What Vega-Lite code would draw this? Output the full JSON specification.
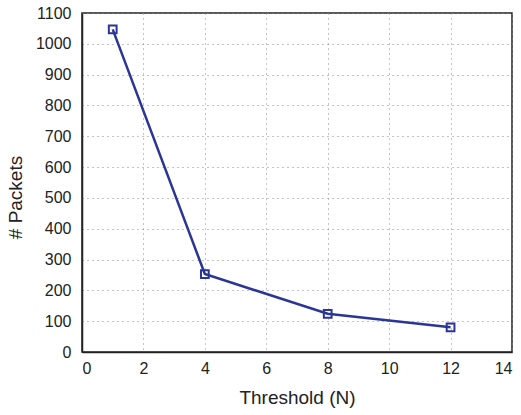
{
  "$schema": "https://vega.github.io/schema/vega-lite/v6.json",
  "width": 430,
  "height": 339,
  "autosize": "none",
  "padding": {"left": 82, "top": 13, "right": 9, "bottom": 63},
  "background": "white",
  "config": {
    "font": "Liberation Sans",
    "view": {"stroke": "#222222", "strokeWidth": 1.5},
    "axis": {
      "domain": true,
      "domainColor": "#222222",
      "domainWidth": 1.5,
      "ticks": false,
      "grid": true,
      "gridColor": "#888888",
      "gridDash": [1, 4],
      "gridWidth": 1,
      "labelFont": "Liberation Sans",
      "labelFontSize": 16,
      "labelColor": "#222222",
      "titleFont": "Liberation Sans",
      "titleFontSize": 19,
      "titleFontWeight": "normal",
      "titleColor": "#222222"
    }
  },
  "data": {
    "values": [
      {"threshold": 1, "packets": 1047},
      {"threshold": 4, "packets": 253},
      {"threshold": 8, "packets": 124},
      {"threshold": 12, "packets": 80}
    ]
  },
  "encoding": {
    "x": {
      "field": "threshold",
      "type": "quantitative",
      "title": "Threshold (N)",
      "scale": {"domain": [0, 14], "nice": false, "zero": false},
      "axis": {"values": [0, 2, 4, 6, 8, 10, 12, 14], "format": "d", "labelPadding": 8, "titlePadding": 12}
    },
    "y": {
      "field": "packets",
      "type": "quantitative",
      "title": "# Packets",
      "scale": {"domain": [0, 1100], "nice": false},
      "axis": {"values": [0, 100, 200, 300, 400, 500, 600, 700, 800, 900, 1000, 1100], "format": "d", "labelPadding": 11, "titleX": -57, "titleY": 184}
    }
  },
  "layer": [
    {
      "mark": {"type": "line", "color": "#2B3595", "strokeWidth": 2.5}
    },
    {
      "mark": {"type": "point", "shape": "square", "filled": false, "color": "#2B3595", "strokeWidth": 2, "size": 60, "opacity": 1}
    }
  ]
}
